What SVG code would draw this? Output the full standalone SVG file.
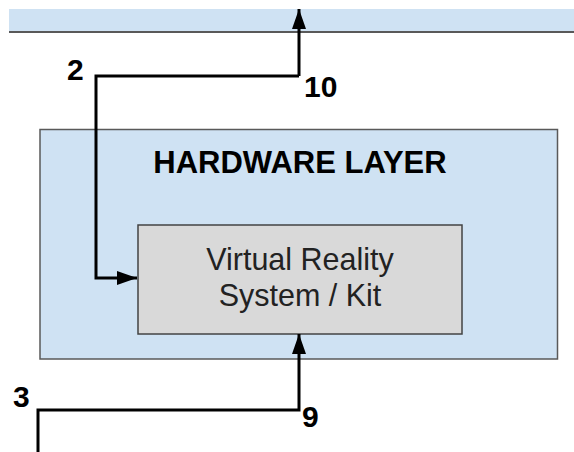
<svg xmlns="http://www.w3.org/2000/svg" width="574" height="452" viewBox="0 0 574 452">
  <style>
    .layer { fill: #cfe2f3; stroke: #595959; stroke-width: 1.5; }
    .comp { fill: #d9d9d9; stroke: #434343; stroke-width: 1.5; }
    .wire { fill: none; stroke: #000; stroke-width: 3; stroke-linejoin: miter; }
    .title { font-family: "Liberation Sans", Arial, sans-serif; font-weight: bold; font-size: 31px; fill: #000; }
    .label { font-family: "Liberation Sans", Arial, sans-serif; font-size: 30.5px; fill: #222; }
    .num { font-family: "Liberation Sans", Arial, sans-serif; font-weight: bold; font-size: 30px; fill: #000; }
  </style>
  <defs>
    <marker id="arrow" viewBox="0 0 20 14" refX="20" refY="7" markerWidth="20" markerHeight="14" markerUnits="userSpaceOnUse" orient="auto">
      <path d="M0,0 L20,7 L0,14 Z" fill="#000"/>
    </marker>
  </defs>
  <rect width="574" height="452" fill="#fff"/>

  <!-- upper layer band (cut off at the top) -->
  <g id="upper-layer">
    <rect x="9" y="9" width="565" height="23" fill="#cfe2f3"/>
    <line x1="9" y1="32" x2="574" y2="32" stroke="#595959" stroke-width="2"/>
  </g>

  <g id="hardware-layer">
    <rect class="layer" x="40" y="129.5" width="517.5" height="229.5"/>
    <text class="title" x="300" y="173" text-anchor="middle">HARDWARE LAYER</text>
  </g>

  <g id="vr-system">
    <rect class="comp" x="138" y="225" width="324" height="109"/>
    <text class="label" x="300" y="270" text-anchor="middle">Virtual Reality</text>
    <text class="label" x="300" y="306" text-anchor="middle">System / Kit</text>
  </g>

  <g id="connectors">
    <!-- 2: from above into the VR kit -->
    <path class="wire" d="M299,76 H96 V278 H137" marker-end="url(#arrow)"/>
    <!-- 10: out of the layer upward -->
    <path class="wire" d="M299,76 V9" marker-end="url(#arrow)"/>
    <!-- 3 / 9: from below up into the VR kit -->
    <path class="wire" d="M38,452 V410 H299 V334" marker-end="url(#arrow)"/>
  </g>

  <g id="labels">
    <text class="num" x="67" y="80">2</text>
    <text class="num" x="304" y="97">10</text>
    <text class="num" x="13" y="407">3</text>
    <text class="num" x="302" y="427">9</text>
  </g>
</svg>
